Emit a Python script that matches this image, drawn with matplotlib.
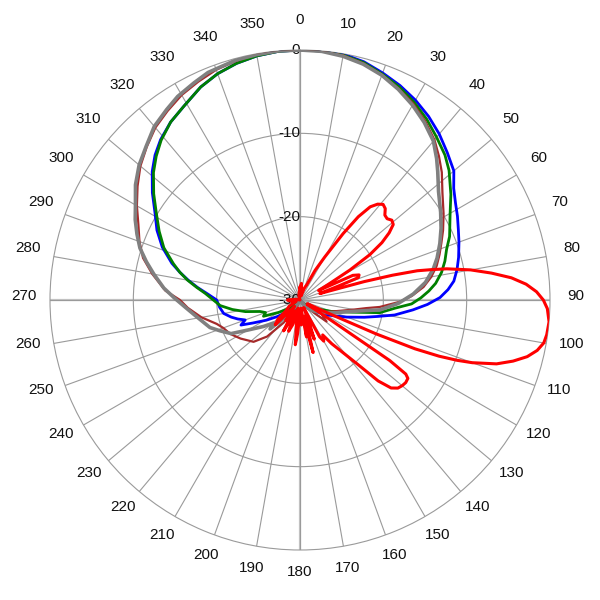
import numpy as np
import matplotlib
matplotlib.use("Agg")
import matplotlib.pyplot as plt
from matplotlib.transforms import offset_copy

plt.rcParams['font.family'] = ['Liberation Sans', 'DejaVu Sans']

# angle (deg, clockwise from top) and level (dB)
blue_deg = [0, 5, 10, 15, 20, 25, 30, 35, 40, 45, 50, 54, 58, 62, 66, 70, 75, 79, 83, 86, 89, 92, 95, 99, 102, 105,
            110, 115, 120, 130, 140, 150,
            215, 225, 230, 234, 239, 244, 247, 250, 253, 256, 260, 265, 270, 274, 277, 280, 283, 286, 291, 296, 301,
            306, 311, 315, 319, 324, 329, 335, 340, 345, 350, 355, 360]
blue_db = [0, 0, -0.05, -0.4, -1.0, -1.6, -2.3, -3.1, -4.0, -5.0, -5.9, -7.2, -8.0, -8.6, -9.2, -9.7, -10.3, -10.8,
           -11.4, -12.2, -13.2, -14.7, -16.4, -18.5, -20.5, -22.0, -24.0, -25.5, -26.5, -28, -29, -30,
           -30, -28.5, -27.5, -26.6, -25.3, -23.7, -22.3, -23.0, -22.2, -21.5, -20.7, -20.3, -20.0, -18.8, -17.6,
           -16.4, -15.2, -14.0, -12.3, -10.9, -9.7, -8.1, -6.5, -5.4, -4.5, -3.6, -2.9, -1.8, -1.1, -0.6, -0.25,
           -0.05, 0]

green_deg = [0, 5, 10, 15, 20, 25, 30, 35, 40, 45, 49, 55, 60, 64, 67, 71, 75, 79, 83, 86, 89, 92, 95, 99, 103, 110,
             120, 130, 140, 150,
             220, 230, 240, 246, 250, 254, 258, 262, 266, 270, 274, 277, 280, 283, 286, 291, 296, 301, 306, 311, 315,
             319, 324, 329, 335, 340, 345, 350, 355, 360]
green_db = [0, 0, -0.15, -0.5, -1.15, -1.8, -2.6, -3.5, -4.5, -5.4, -6.3, -7.9, -9.2, -10.0, -10.5, -11.4, -12.0,
            -12.7, -13.6, -14.5, -15.5, -16.6, -18.6, -20.3, -23.5, -26, -28, -29, -29.5, -30,
            -30, -28.5, -27, -25.2, -25.6, -25, -23.3, -21.8, -20.4, -19.6, -18.6, -17.5, -16.3, -15.2, -14.2, -12.5,
            -11.2, -9.9, -8.3, -6.7, -5.6, -4.6, -3.6, -2.9, -1.8, -1.1, -0.6, -0.25, -0.05, 0]

brown_deg = [0, 5, 10, 15, 20, 25, 30, 35, 40, 44, 48, 53, 59, 64, 68, 72, 76, 80, 84, 88, 91, 95, 97, 100, 105, 111,
             118, 124, 129, 132, 140, 150,
             195, 205, 210, 216, 222, 228, 237, 244, 250, 254, 260, 266, 270, 274, 280, 285, 290, 295, 300, 305, 310,
             315, 320, 325, 330, 335, 340, 345, 350, 355, 360]
brown_db = [0, 0, -0.2, -0.6, -1.25, -2.0, -2.8, -3.8, -4.9, -6.0, -7.1, -8.6, -9.9, -10.9, -11.7, -12.4, -13.1, -14.0,
            -15.1, -16.6, -18.0, -20.4, -22.0, -23.4, -25.0, -26.1, -27.0, -26.8, -25.9, -27.5, -29, -30,
            -30, -29, -28, -26.6, -24.1, -22.5, -21.5, -20.7, -20.2, -19.6, -18.0, -16.5, -15.6, -13.8, -12.0, -10.5,
            -9.5, -8.6, -7.4, -6.2, -5.0, -4.0, -3.0, -2.3, -1.6, -1.1, -0.6, -0.3, -0.1, 0, 0]

gray_deg = [0, 5, 10, 15, 20, 25, 30, 35, 40, 44, 47, 52, 58, 63, 68, 73, 77, 82, 87, 92, 97, 104, 110, 120, 130, 140,
            150, 200, 210, 218, 222, 226, 229, 234, 240, 244, 249, 253, 261, 266, 271, 275, 280, 284, 288, 292, 296,
            300, 305, 310, 315, 320, 325, 329, 334, 338, 345, 350, 355, 360]
gray_db = [0, -0.05, -0.3, -0.7, -1.3, -2.1, -3.0, -4.0, -5.1, -6.4, -7.4, -8.9, -10.1, -11.0, -11.9, -12.8, -13.6,
           -14.8, -16.4, -18.2, -20.3, -24.2, -25.5, -27, -28, -29, -30, -30, -29.5, -28.5, -27, -25.0, -25.8, -24.6,
           -22.8, -20.8, -19.7, -18.7, -17.4, -16.3, -14.9, -13.6, -12.2, -11.0, -9.8, -8.9, -8.0, -7.2, -5.9, -4.8,
           -3.9, -2.8, -2.1, -1.5, -1.0, -0.55, -0.2, -0.1, 0, 0]

red_deg = [0, 5, 10, 15, 20, 24, 27, 30, 33, 35, 37, 39, 41, 43, 45, 47, 49, 51, 53, 55, 57, 59, 61, 63, 65, 67, 69,
           70, 72, 74, 75, 76, 77, 78, 80, 82, 84, 86, 88, 90, 92, 95, 98, 100, 102, 104, 106, 108, 110, 111, 112, 113,
           114, 115, 117, 119, 121, 123, 124, 125, 126, 128, 130, 132, 134, 136, 138, 141, 144, 147, 150, 152, 154,
           157, 160, 162, 164, 166, 168, 170, 173, 177, 180, 184, 186, 189, 192, 196, 200, 203, 206, 208, 211, 215,
           220, 225, 229, 233, 240, 250, 260, 270, 280, 290, 330, 345, 355, 360]
red_db = [-28.5, -28, -29, -29.5, -28.5, -28, -26, -24, -20.5, -17.8, -16, -15.2, -14.8, -15.0, -15.6, -15.7, -15.4,
          -15.6, -16.6, -18, -20, -23, -26, -27.5, -23, -22.3, -22.5, -25, -27.5, -22, -18.5, -15.5, -13.8, -12, -9.2,
          -6.8, -4.5, -2.8, -1.6, -0.8, -0.3, 0, -0.1, -0.3, -0.9, -1.9, -3.4, -5.2, -8, -9.8, -12, -15, -20, -26,
          -29, -28, -29, -26, -17, -14.5, -14, -13.9, -14, -14.2, -14.8, -16.5, -19.5, -22, -23.5, -25, -24.3, -25,
          -29, -27.5, -25.0, -28, -27, -23.5, -27, -25.5, -29, -27, -28.5, -26, -24.6, -27.5, -29, -27, -26, -28.5,
          -27, -25.8, -28.5, -27, -29, -25.8, -26.5, -28, -28.5, -29.5, -29, -28.5, -29.5, -30, -30, -29.5, -29,
          -28.5]

series = [
    (blue_deg, blue_db, '#0000ff', 2.0),
    (green_deg, green_db, '#008000', 2.0),
    (brown_deg, brown_db, '#a52a2a', 1.6),
    (gray_deg, gray_db, '#808080', 2.6),
    (red_deg, red_db, '#ff0000', 2.2),
]

fig = plt.figure(figsize=(6, 6), dpi=100)
ax = fig.add_axes([50 / 600, 50 / 600, 500 / 600, 500 / 600], projection='polar')
ax.set_theta_zero_location('N')
ax.set_theta_direction(-1)
ax.set_rlim(-30, 0)

angles = np.arange(0, 360, 10)
ax.set_thetagrids(angles, [''] * len(angles))
ax.set_rticks([-20, -10])
ax.set_yticklabels([])
ax.grid(True, color='#9a9a9a', lw=0.8)
ax.spines['polar'].set_color('#9a9a9a')
ax.spines['polar'].set_linewidth(0.8)

# angle labels just outside the ring, nudged up a little
lab_tr = offset_copy(ax.transData, fig=fig, x=0, y=4, units='dots')
for a in angles:
    ax.text(np.radians(a), 3.1, str(a), ha='center', va='center', fontsize=11,
            color='#111111', transform=lab_tr, clip_on=False)

# main axes in lighter, thicker gray
for a in (0, 90, 180, 270):
    ax.plot([np.radians(a)] * 2, [-30, 0], color='#c4c4c4', lw=1.6, zorder=1.5)

# radial labels along the 0 line
for lev in (0, -10, -20, -30):
    ax.text(0, lev, str(lev), ha='right', va='center', fontsize=11, color='#111111', zorder=1.8)

for deg, db, col, lw in series:
    ax.plot(np.radians(deg), db, color=col, lw=lw, zorder=3)

fig.savefig('out.png', dpi=100)
